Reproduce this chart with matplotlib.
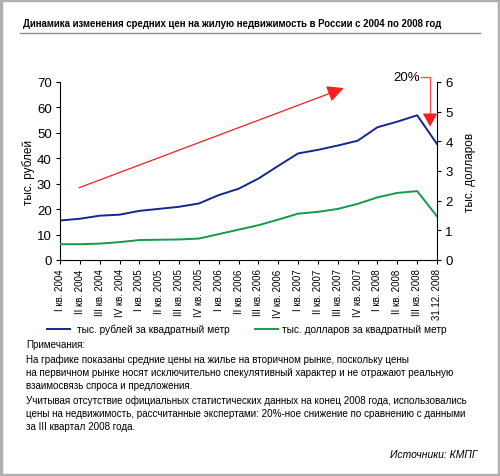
import numpy as np
import matplotlib.pyplot as plt
from matplotlib.patches import Rectangle
from matplotlib.lines import Line2D

# quarters, I кв. 2004 ... III кв. 2008, plus end of 2008 estimate
quarters = ['I кв. 2004', 'II кв. 2004', 'III кв. 2004', 'IV кв. 2004',
            'I кв. 2005', 'II кв. 2005', 'III кв. 2005', 'IV кв. 2005',
            'I кв. 2006', 'II кв. 2006', 'III кв. 2006', 'IV кв. 2006',
            'I кв. 2007', 'II кв. 2007', 'III кв. 2007', 'IV кв. 2007',
            'I кв. 2008', 'II кв. 2008', 'III кв. 2008', '31.12. 2008']
rub = [15.5, 16.2, 17.4, 17.8, 19.3, 20.1, 20.9, 22.2, 25.5, 28.0,
       32.0, 37.0, 41.9, 43.3, 45.0, 46.9, 52.2, 54.4, 56.9, 45.6]
usd = [0.53, 0.53, 0.55, 0.60, 0.67, 0.68, 0.69, 0.72, 0.87, 1.02,
       1.17, 1.36, 1.56, 1.62, 1.72, 1.89, 2.11, 2.26, 2.32, 1.47]

blue = '#13278f'
green = '#159a4a'
red = '#ff1e1e'

plt.rcParams['font.family'] = ['Liberation Sans', 'DejaVu Sans']

fig = plt.figure(figsize=(5.0, 4.77), dpi=100)
ax = fig.add_axes([0.12, 0.453, 0.754, 0.373])
ax2 = ax.twinx()

x = np.arange(len(quarters))
ax.plot(x, rub, color=blue, lw=1.4)
ax2.plot(x, usd, color=green, lw=1.4)

ax.set_xlim(0, len(quarters) - 1)
ax.set_ylim(0, 70)
ax2.set_ylim(0, 6)
ax.set_yticks(range(0, 71, 10))
ax2.set_yticks(range(0, 7))
ax.set_xticks(x)
ax.set_xticklabels(quarters, rotation=90, fontsize=7)

for a in (ax, ax2):
    a.spines['top'].set_visible(False)
    a.tick_params(axis='y', labelsize=9.5, length=3, width=0.8, pad=3)
ax.spines['right'].set_visible(False)
ax2.spines['left'].set_visible(False)
ax2.spines['bottom'].set_visible(False)
ax.tick_params(axis='x', length=3, width=0.8, pad=3)

ax.set_ylabel('тыс. рублей', fontsize=8.5, labelpad=1.5)
ax2.set_ylabel('тыс. долларов', fontsize=8.5, labelpad=8)

# trend arrow
ax.annotate('', xy=(14.3, 67.6), xytext=(0.96, 28.4),
            arrowprops=dict(arrowstyle='-|>,head_length=1.0,head_width=0.5',
                            color=red, lw=0.9, shrinkA=0, shrinkB=0),
            annotation_clip=False)

# 20% drop marker
ax.plot([18.2, 18.65, 18.65], [72, 72, 56], color='#ff5050', lw=1.0,
        clip_on=False)
ax.annotate('', xy=(18.65, 52.5), xytext=(18.65, 57),
            arrowprops=dict(arrowstyle='-|>,head_length=0.8,head_width=0.45',
                            color=red, lw=0.9, shrinkA=0, shrinkB=0),
            annotation_clip=False)
ax.text(18.15, 72, '20%', ha='right', va='center', fontsize=9.5)

# title and frame
fig.text(0.046, 0.949, 'Динамика изменения средних цен на жилую недвижимость в России с 2004 по 2008 год',
         fontsize=6.9, fontweight='bold', va='center')
fig.add_artist(Line2D([0.04, 0.96], [0.929, 0.929], color='#909090', lw=1.0))
fig.add_artist(Rectangle((0.002, 0.002), 0.996, 0.996, fill=False,
                         edgecolor='#b0b0b0', lw=2.5, transform=fig.transFigure))

# legend
fig.add_artist(Line2D([0.094, 0.14], [0.308, 0.308], color=blue, lw=1.4))
fig.text(0.154, 0.308, 'тыс. рублей за квадратный метр', fontsize=7.3, va='center')
fig.add_artist(Line2D([0.51, 0.556], [0.308, 0.308], color=green, lw=1.4))
fig.text(0.564, 0.308, 'тыс. долларов за квадратный метр', fontsize=7.3, va='center')

# notes
notes = ['Примечания:',
         'На графике показаны средние цены на жилье на вторичном рынке, поскольку цены',
         'на первичном рынке носят исключительно спекулятивный характер и не отражают реальную',
         'взаимосвязь спроса и предложения.',
         'Учитывая отсутствие официальных статистических данных на конец 2008 года, использовались',
         'цены на недвижимость, рассчитанные экспертами: 20%-ное снижение по сравнению с данными',
         'за III квартал 2008 года.']
ys = [345, 360, 373, 386, 401, 414, 427]
for t, yy in zip(notes, ys):
    fig.text(0.052, 1 - yy / 477, t, fontsize=7.1, va='center')
fig.text(0.956, 1 - 455 / 477, 'Источники: КМПГ', fontsize=7.5, style='italic',
         ha='right', va='center')

fig.savefig('out.png', dpi=100)
